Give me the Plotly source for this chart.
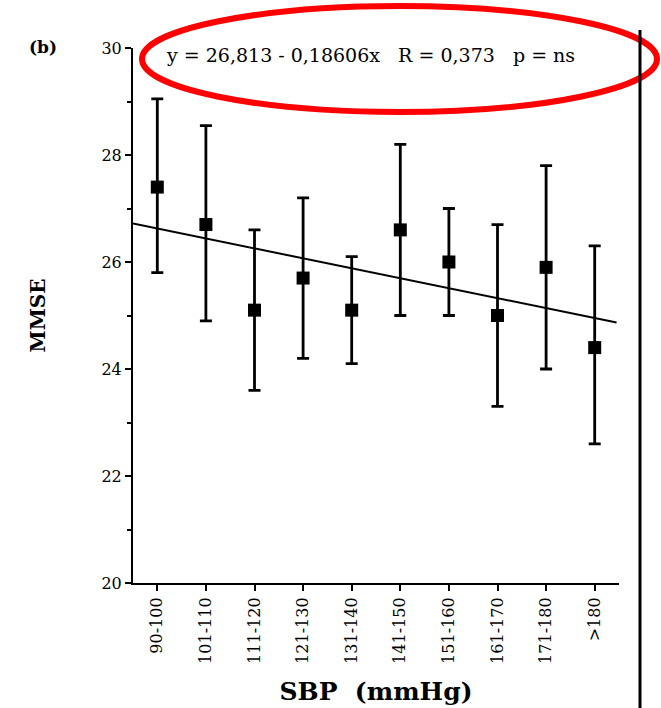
import plotly.graph_objects as go

# SBP classes and MMSE summary values (mean with lower / upper bounds)
categories = ["90-100", "101-110", "111-120", "121-130", "131-140",
              "141-150", "151-160", "161-170", "171-180", ">180"]
mmse_mean = [27.4, 26.7, 25.1, 25.7, 25.1, 26.6, 26.0, 25.0, 25.9, 24.4]
mmse_upper = [29.05, 28.55, 26.6, 27.2, 26.1, 28.2, 27.0, 26.7, 27.8, 26.3]
mmse_lower = [25.8, 24.9, 23.6, 24.2, 24.1, 25.0, 25.0, 23.3, 24.0, 22.6]

# linear fit y = a + b*x over the class index x = 1..10
fit_a = 26.813
fit_b = -0.18606
fit_x = [0.5, 10.45]

x_idx = list(range(1, len(categories) + 1))
err_plus = [u - m for u, m in zip(mmse_upper, mmse_mean)]
err_minus = [m - l for m, l in zip(mmse_mean, mmse_lower)]

SERIF = "DejaVu Serif"

fig = go.Figure()

fig.add_trace(go.Scatter(
    x=fit_x, y=[fit_a + fit_b * v for v in fit_x],
    mode="lines", line=dict(color="black", width=2),
    hoverinfo="skip", showlegend=False,
))

fig.add_trace(go.Scatter(
    x=x_idx, y=mmse_mean, mode="markers",
    marker=dict(symbol="square", size=13, color="black"),
    error_y=dict(type="data", symmetric=False, array=err_plus,
                 arrayminus=err_minus, color="black", thickness=2.8, width=6),
    showlegend=False,
))

L, R, T, B = 133, 42, 48, 125
W, H = 661, 708
pw, ph = W - L - R, H - T - B


def px_x(p):
    return (p - L) / pw


def px_y(p):
    return (H - B - p) / ph


fig.update_layout(
    width=W, height=H,
    margin=dict(l=L, r=R, t=T, b=B, autoexpand=False),
    paper_bgcolor="white", plot_bgcolor="white",
    font=dict(family=SERIF, color="black"),
    xaxis=dict(
        range=[0.5, 10.5], tickmode="array", tickvals=x_idx,
        ticktext=categories, tickangle=-90, automargin=False,
        ticks="outside", ticklen=6, tickwidth=2, tickcolor="black",
        showline=True, linecolor="black", linewidth=2,
        showgrid=False, zeroline=False,
        tickfont=dict(family=SERIF, size=16),
        title=dict(text="<b>SBP  (mmHg)</b>", font=dict(family=SERIF, size=25),
                   standoff=20),
    ),
    yaxis=dict(
        range=[20, 30], tickvals=[20, 22, 24, 26, 28, 30], automargin=False,
        ticks="outside", ticklen=6, tickwidth=2, tickcolor="black",
        minor=dict(tickvals=[21, 23, 25, 27, 29], ticks="outside",
                   ticklen=4, tickwidth=2, tickcolor="black"),
        showline=True, linecolor="black", linewidth=2,
        showgrid=False, zeroline=False,
        tickfont=dict(family=SERIF, size=16),
        title=dict(text="<b>MMSE</b>", font=dict(family=SERIF, size=20),
                   standoff=50),
    ),
    annotations=[
        dict(text="<b>(b)</b>", xref="paper", yref="paper",
             x=px_x(27), y=px_y(47), xanchor="left", yanchor="middle",
             showarrow=False, font=dict(family=SERIF, size=17)),
        dict(text="y = 26,813 - 0,18606x   R = 0,373   p = ns",
             xref="paper", yref="paper", x=px_x(164), y=px_y(55),
             xanchor="left", yanchor="middle", showarrow=False,
             font=dict(family=SERIF, size=19)),
    ],
    shapes=[
        dict(type="circle", xref="paper", yref="paper",
             x0=px_x(142), x1=px_x(657), y0=px_y(6), y1=px_y(112),
             line=dict(color="red", width=6)),
        dict(type="line", xref="paper", yref="paper",
             x0=px_x(640), x1=px_x(640), y0=px_y(30), y1=px_y(708),
             line=dict(color="black", width=3)),
    ],
)

fig.write_html("out.html")
